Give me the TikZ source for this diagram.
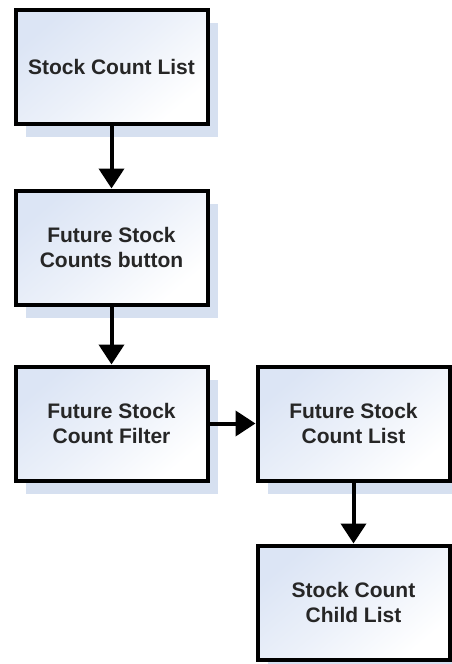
\documentclass[tikz,border=0pt]{standalone}
\usepackage{fontspec}
\setmainfont{Liberation Sans}
\usetikzlibrary{arrows.meta,shadows}
\definecolor{boxtint}{HTML}{DCE5F5}
\definecolor{shadowtint}{HTML}{D6E0F0}
\definecolor{labeltext}{HTML}{262626}
\begin{document}
\begin{tikzpicture}[x=1pt,y=1pt,
  stepbox/.style={draw=black, line width=4pt, minimum width=192pt, minimum height=114pt,
    inner sep=0pt, align=center, top color=boxtint, bottom color=white,
    middle color=white!45!boxtint, shading angle=40,
    text=labeltext, font=\fontsize{21}{25}\selectfont\bfseries,
    drop shadow={shadow xshift=10pt, shadow yshift=-13pt, fill=shadowtint, opacity=1}},
  flow/.style={line width=4pt, -{Triangle[length=20pt, width=25pt]}}]
  \useasboundingbox (0,0) rectangle (452,-664);
  \node[stepbox] (list)   at (111.5,-66.5)  {Stock Count List};
  \node[stepbox] (button) at (111.5,-247.5) {Future Stock\\Counts button};
  \node[stepbox] (filter) at (111.5,-423.5) {Future Stock\\Count Filter};
  \node[stepbox] (future) at (353.5,-423.5) {Future Stock\\Count List};
  \node[stepbox] (child)  at (353.5,-602.5) {Stock Count\\Child List};
  \draw[flow] (list) -- (button);
  \draw[flow] (button) -- (filter);
  \draw[flow] (filter) -- (future);
  \draw[flow] (future) -- (child);
\end{tikzpicture}
\end{document}
